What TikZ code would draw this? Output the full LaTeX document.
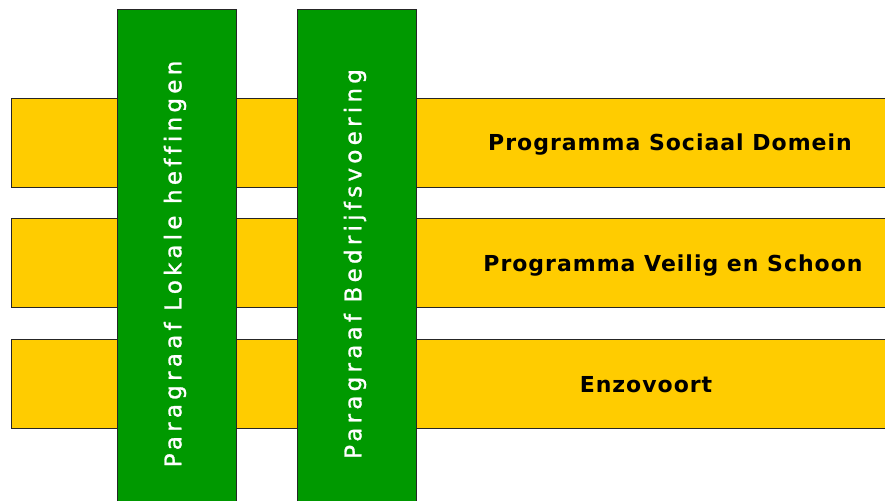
\documentclass[tikz,border=0pt]{standalone}
\usepackage{fontspec}
\setmainfont{DejaVu Sans}
\newfontfamily\ylfont[LetterSpace=4.5,Ligatures=NoCommon]{DejaVu Sans}
\newfontfamily\grfont[LetterSpace=18.5,FakeBold=1.2,Ligatures=NoCommon]{DejaVu Sans}
\begin{document}
\begin{tikzpicture}[x=1pt,y=-1pt,
  ybar/.style={draw=black!85,line width=1.3pt,fill={rgb,255:red,255;green,204;blue,0},inner sep=0pt,anchor=north west,minimum width=885pt,minimum height=89pt},
  gbar/.style={draw=black!85,line width=1.3pt,fill={rgb,255:red,0;green,153;blue,0},inner sep=0pt,anchor=north west,minimum width=119pt,minimum height=500pt},
  ylab/.style={font=\ylfont\bfseries\fontsize{22}{26}\selectfont,text=black},
  glab/.style={font=\grfont\fontsize{23}{27}\selectfont,text=white,rotate=90}]
\useasboundingbox (0,0) rectangle (885,500);
\begin{scope}
\clip (0,0) rectangle (885,500);
\node[ybar] (y1) at (11,98) {};
\node[ybar] (y2) at (11,218) {};
\node[ybar] (y3) at (11,339) {};
\node[gbar] (g1) at (117,9) {};
\node[gbar] (g2) at (297,9) {};
\end{scope}
\node[ylab] (t1) at (670,145) {Programma Sociaal Domein};
\node[ylab] (t2) at (673,266) {Programma Veilig en Schoon};
\node[ylab] (t3) at (646,385) {Enzovoort};
\node[glab] (s1) at (175,264) {Paragraaf Lokale hef{}fingen};
\node[glab] (s2) at (355,264) {Paragraaf Bedrijfsvoering};
\end{tikzpicture}
\end{document}
